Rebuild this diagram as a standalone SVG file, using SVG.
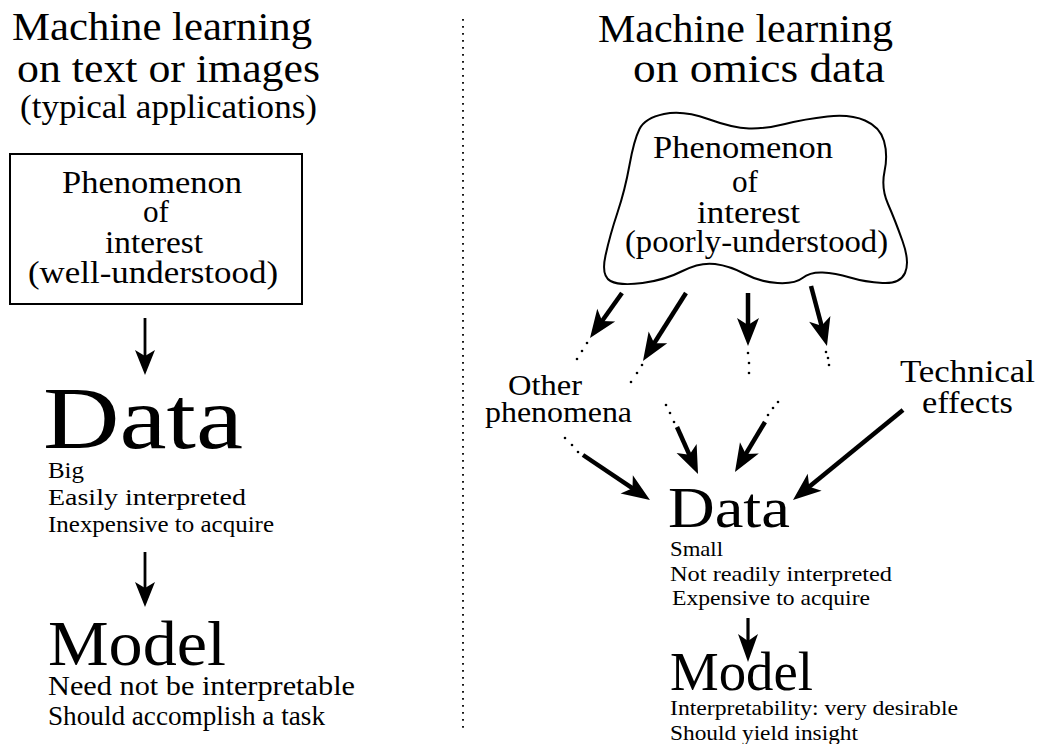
<svg xmlns="http://www.w3.org/2000/svg" width="1039" height="744" viewBox="0 0 1039 744" font-family="'Liberation Serif', 'Times New Roman', serif">
  <defs>
    <style>
      text { font-family: 'Liberation Serif', 'Times New Roman', serif; fill: #000; }
      .title { font-size: 41px; }
      .sub { font-size: 33px; }
      .node { font-size: 32px; }
      .side { font-size: 30px; }
      .bigword { font-size: 88px; }
      .noteL { font-size: 24px; }
      .noteL2 { font-size: 28px; }
      .noteR { font-size: 22px; }
      .shape { fill: #fff; stroke: #000; stroke-width: 2; }
      .thick { stroke: #000; stroke-width: 4.5; fill: none; marker-end: url(#headL); }
      .thin { stroke: #000; stroke-width: 2.8; fill: none; marker-end: url(#headS); }
      .mid { stroke: #000; stroke-width: 3.2; fill: none; marker-end: url(#headM); }
      .dot { fill: #000; }
    </style>
    <!-- stealth-style heads; shaft ends at the marker origin, tip lies ahead of it -->
    <marker id="headL" markerUnits="userSpaceOnUse" viewBox="-14 -12 30 24" markerWidth="30" markerHeight="24" refX="0" refY="0" orient="auto">
      <path d="M15,0 L-13,-11 L-6,0 L-13,11 Z" fill="#000"/>
    </marker>
    <marker id="headM" markerUnits="userSpaceOnUse" viewBox="-14 -11 30 22" markerWidth="30" markerHeight="22" refX="0" refY="0" orient="auto">
      <path d="M15,0 L-13,-10 L-6,0 L-13,10 Z" fill="#000"/>
    </marker>
    <marker id="headS" markerUnits="userSpaceOnUse" viewBox="-12 -11 27 22" markerWidth="27" markerHeight="22" refX="0" refY="0" orient="auto">
      <path d="M14,0 L-11,-10 L-5,0 L-11,10 Z" fill="#000"/>
    </marker>
  </defs>

  <rect x="0" y="0" width="1039" height="744" fill="#fff"/>

  <!-- column divider -->
  <line x1="463" y1="19" x2="463" y2="730" stroke="#000" stroke-width="1.8" stroke-dasharray="1.8 5.2"/>

  <!-- left column: headings -->
  <g id="left-heading">
    <text class="title" x="12" y="40" textLength="300" lengthAdjust="spacingAndGlyphs">Machine learning</text>
    <text class="title" x="17" y="82" textLength="303" lengthAdjust="spacingAndGlyphs">on text or images</text>
    <text class="sub" x="20" y="118" textLength="297" lengthAdjust="spacingAndGlyphs">(typical applications)</text>
  </g>

  <g id="left-phenomenon">
    <rect class="shape" x="10" y="154" width="292" height="150"/>
    <text class="node" x="62" y="193" textLength="180" lengthAdjust="spacingAndGlyphs">Phenomenon</text>
    <text class="node" x="143" y="222" textLength="26" lengthAdjust="spacingAndGlyphs">of</text>
    <text class="node" x="105" y="253" textLength="98" lengthAdjust="spacingAndGlyphs">interest</text>
    <text class="node" x="28" y="283" textLength="250" lengthAdjust="spacingAndGlyphs">(well-understood)</text>
  </g>

  <g id="left-data">
    <text class="bigword" x="43" y="448" textLength="200" lengthAdjust="spacingAndGlyphs">Data</text>
    <text class="noteL" x="48" y="478" textLength="36" lengthAdjust="spacingAndGlyphs">Big</text>
    <text class="noteL" x="48" y="505" textLength="198" lengthAdjust="spacingAndGlyphs">Easily interpreted</text>
    <text class="noteL" x="48" y="532" textLength="226" lengthAdjust="spacingAndGlyphs">Inexpensive to acquire</text>
  </g>

  <g id="left-model">
    <text x="48" y="665" style="font-size:63px" textLength="178" lengthAdjust="spacingAndGlyphs">Model</text>
    <text class="noteL2" x="48" y="695" textLength="307" lengthAdjust="spacingAndGlyphs">Need not be interpretable</text>
    <text class="noteL2" x="48" y="725" textLength="277" lengthAdjust="spacingAndGlyphs">Should accomplish a task</text>
  </g>

  <!-- right column: headings -->
  <g id="right-heading">
    <text class="title" x="598" y="42" textLength="295" lengthAdjust="spacingAndGlyphs">Machine learning</text>
    <text class="title" x="633" y="82" textLength="252" lengthAdjust="spacingAndGlyphs">on omics data</text>
  </g>

  <g id="right-phenomenon">
    <path class="shape" d="M639.5,129 Q645,118 664,114 Q683,110 708,119 Q733,128 749,128.5 Q765,129 785,124 Q805,119 827.5,116.5 Q850,114 865,120.5 Q880,127 884,141 Q888,155 884.5,171.5 Q881,188 888,204 Q895,220 902.5,241 Q910,262 905,273 Q900,284 882.5,283 Q865,282 850,277.5 Q835,273 822.5,272.5 Q810,272 802.5,278 Q795,284 777.5,283 Q760,282 745,274 Q730,266 715,264 Q700,262 682.5,271 Q665,280 642.5,283 Q620,286 610.5,281 Q601,276 605.5,255.5 Q610,235 617.5,212.5 Q625,190 629.5,165 Q634,140 639.5,129 Z"/>
    <text class="node" x="653" y="158" textLength="180" lengthAdjust="spacingAndGlyphs">Phenomenon</text>
    <text class="node" x="732" y="192" textLength="26" lengthAdjust="spacingAndGlyphs">of</text>
    <text class="node" x="697" y="223" textLength="103" lengthAdjust="spacingAndGlyphs">interest</text>
    <text class="node" x="625" y="252" textLength="263" lengthAdjust="spacingAndGlyphs">(poorly-understood)</text>
  </g>

  <g id="other-phenomena">
    <text class="side" x="508" y="395" textLength="74" lengthAdjust="spacingAndGlyphs">Other</text>
    <text class="side" x="485" y="422" textLength="147" lengthAdjust="spacingAndGlyphs">phenomena</text>
  </g>

  <g id="technical-effects">
    <text class="side" x="900" y="382" style="font-size:32px" textLength="135" lengthAdjust="spacingAndGlyphs">Technical</text>
    <text class="side" x="922" y="413" style="font-size:32px" textLength="91" lengthAdjust="spacingAndGlyphs">effects</text>
  </g>

  <g id="right-data">
    <text x="668" y="527" style="font-size:56px" textLength="122" lengthAdjust="spacingAndGlyphs">Data</text>
    <text class="noteR" x="670" y="556" textLength="53" lengthAdjust="spacingAndGlyphs">Small</text>
    <text class="noteR" x="670" y="581" textLength="222" lengthAdjust="spacingAndGlyphs">Not readily interpreted</text>
    <text class="noteR" x="672" y="605" textLength="198" lengthAdjust="spacingAndGlyphs">Expensive to acquire</text>
  </g>

  <g id="right-model">
    <text x="670" y="690" style="font-size:54px" textLength="143" lengthAdjust="spacingAndGlyphs">Model</text>
    <text class="noteR" x="670" y="715" textLength="288" lengthAdjust="spacingAndGlyphs">Interpretability: very desirable</text>
    <text class="noteR" x="670" y="740" textLength="188" lengthAdjust="spacingAndGlyphs">Should yield insight</text>
  </g>

  <!-- connectors -->
  <g id="connectors">
    <line class="thin" x1="145" y1="318" x2="145" y2="361"/>
    <line class="thin" x1="145" y1="552" x2="145" y2="593"/>
    <line class="mid" x1="748" y1="618" x2="748" y2="647"/>

    <!-- from the cloud outward -->
    <line class="thick" x1="622" y1="293" x2="598.7" y2="325.8"/>
    <line class="thick" x1="686" y1="293" x2="651" y2="348.3"/>
    <line class="thick" x1="748" y1="293" x2="748" y2="331"/>
    <line class="thick" x1="811" y1="286" x2="823.1" y2="331.5"/>

    <!-- into the data -->
    <line class="thick" x1="583" y1="455" x2="637.5" y2="491.6"/>
    <line class="thick" x1="677" y1="427" x2="691.9" y2="460.3"/>
    <line class="thick" x1="765" y1="422" x2="742.7" y2="459.1"/>
    <line class="thick" x1="903" y1="410" x2="804.6" y2="490.5"/>

    <!-- dotted continuations -->
    <g class="dot">
      <circle cx="587" cy="343" r="1.3"/><circle cx="582" cy="351" r="1.3"/><circle cx="577" cy="359" r="1.3"/>
      <circle cx="642" cy="365" r="1.3"/><circle cx="637" cy="373" r="1.3"/><circle cx="631" cy="382" r="1.3"/>
      <circle cx="748" cy="353" r="1.3"/><circle cx="749" cy="363" r="1.3"/><circle cx="749" cy="373" r="1.3"/>
      <circle cx="826" cy="352" r="1.3"/><circle cx="828" cy="358" r="1.3"/><circle cx="829" cy="365" r="1.3"/>
      <circle cx="565" cy="438" r="1.3"/><circle cx="572" cy="445" r="1.3"/><circle cx="578" cy="452" r="1.3"/>
      <circle cx="666" cy="405" r="1.3"/><circle cx="670" cy="413" r="1.3"/><circle cx="674" cy="422" r="1.3"/>
      <circle cx="778" cy="402" r="1.3"/><circle cx="773" cy="408" r="1.3"/><circle cx="768" cy="415" r="1.3"/>
    </g>
  </g>
</svg>
